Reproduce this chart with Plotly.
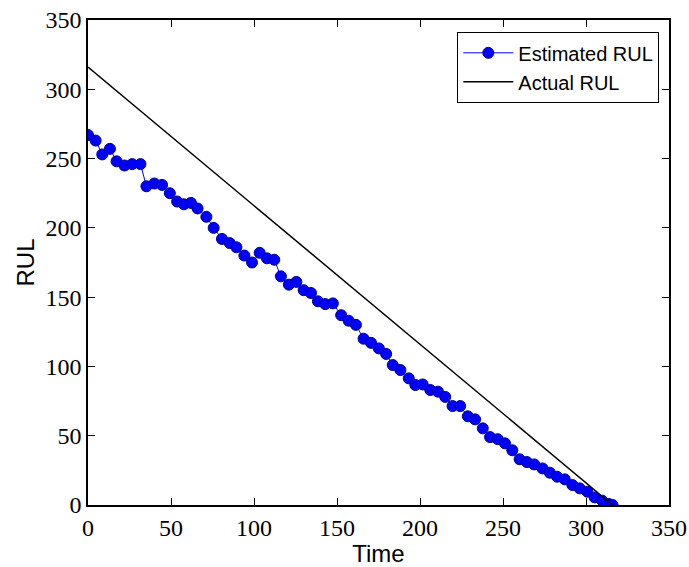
import plotly.graph_objects as go

time_est = [0, 4.6, 8.6, 13.2, 17.2, 22, 26.6, 31.6, 35.2, 40, 44.6, 49.3, 53.7, 57.7, 62,
            66, 71.3, 75.7, 80.7, 85.4, 89.4, 94.2, 98.8, 103.4, 107.8, 112.2, 116.2, 121,
            125.5, 129.9, 134.3, 138.5, 142.9, 147.5, 152.5, 157, 161.4, 166, 170.5, 175.2,
            179.6, 183.6, 188.2, 193.2, 197.2, 201.6, 206.2, 210.8, 215.2, 219.6, 224.2,
            228.8, 233.2, 237.8, 242.2, 246.8, 251.2, 255.6, 260, 264.4, 268.8, 273.8, 278.2,
            282.6, 287.2, 291.8, 296.2, 300.8, 305.2, 309.8, 313.8, 316]
rul_est = [267, 263, 253, 257, 248, 245, 246, 246, 230, 232, 231, 225, 219, 217, 218,
           214, 208, 200, 192, 189, 186, 180, 175, 182, 178, 177, 165, 159,
           161, 155, 153, 147, 145, 145.5, 137, 133, 130, 120, 117, 113,
           109, 101, 97.4, 91.4, 86.6, 87, 83, 81.8, 78, 71.4, 71.4,
           64, 61.8, 55.3, 49, 47.5, 44.5, 39.5, 33, 31, 29.3, 26.4, 23.3,
           20.4, 18.5, 14.4, 12, 9.6, 5.5, 3.1, 0.7, 0]
time_act = [0, 316]
rul_act = [316, 0]
ticks = [0, 50, 100, 150, 200, 250, 300, 350]

fig = go.Figure()
fig.add_trace(go.Scatter(x=time_est, y=rul_est, mode="lines+markers", name="Estimated RUL",
                         line=dict(color="#0000ff", width=1),
                         marker=dict(color="#0000ff", size=11, line=dict(color="#00008b", width=1)),
                         cliponaxis=True))
fig.add_trace(go.Scatter(x=time_act, y=rul_act, mode="lines", name="Actual RUL",
                         line=dict(color="black", width=1.5)))

axis_common = dict(range=[0, 350], tickvals=ticks, ticktext=[str(t) for t in ticks],
                   showgrid=False, zeroline=False, showline=True, linecolor="black",
                   linewidth=1.5, mirror="ticks", ticks="inside", ticklen=7, tickcolor="black",
                   automargin=False, ticklabeloverflow="allow",
                   tickfont=dict(family="Liberation Serif", size=24, color="black"))
fig.update_xaxes(**axis_common, title=dict(text="Time", standoff=2,
                 font=dict(family="Liberation Sans", size=24, color="black")))
fig.update_yaxes(**axis_common, title=dict(text="RUL", standoff=4,
                 font=dict(family="Liberation Sans", size=24, color="black")))

fig.update_layout(width=689, height=567, margin=dict(l=88, r=20, t=20, b=62),
                  plot_bgcolor="white", paper_bgcolor="white",
                  legend=dict(x=0.983, y=0.975, xanchor="right", yanchor="top",
                              bordercolor="black", borderwidth=1.2, bgcolor="white",
                              font=dict(family="Liberation Sans", size=20, color="black"),
                              itemwidth=50, tracegroupgap=0),
                  showlegend=True)
fig.write_html("out.html", config={"displayModeBar": False},
               post_script="document.body.style.margin='0';document.body.style.overflow='hidden';")
